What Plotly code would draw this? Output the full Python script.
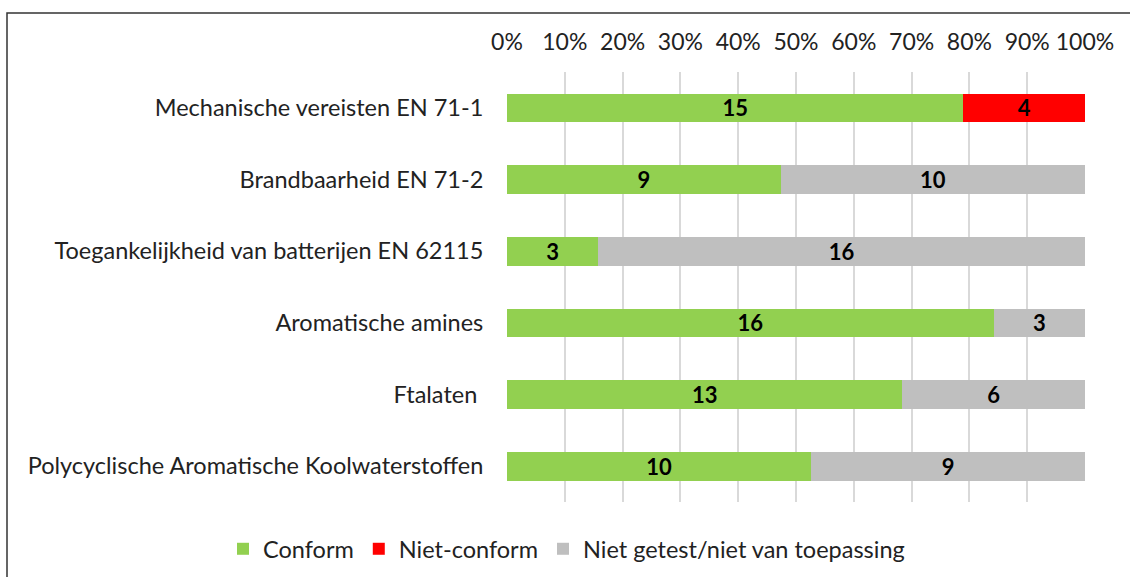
import plotly.graph_objects as go

categories = [
    "Mechanische vereisten EN 71-1",
    "Brandbaarheid EN 71-2",
    "Toegankelijkheid van batterijen EN 62115",
    "Aromatische amines",
    "Ftalaten ",
    "Polycyclische Aromatische Koolwaterstoffen",
]
conform = [15, 9, 3, 16, 13, 10]
niet_conform = [4, 0, 0, 0, 0, 0]
niet_getest = [0, 10, 16, 3, 6, 9]
tick_vals = [0, 10, 20, 30, 40, 50, 60, 70, 80, 90, 100]
tick_text = [f"{v}%" for v in tick_vals]

series = [
    ("Conform", conform, "#92D050"),
    ("Niet-conform", niet_conform, "#FF0000"),
    ("Niet getest/niet van toepassing", niet_getest, "#BFBFBF"),
]

W, H = 1130, 577
ML, MR, MT, MB = 507, 45, 72, 75
pw, ph = W - ML - MR, H - MT - MB

def px_x(p):
    return (p - ML) / pw

def px_y(p):
    return (H - MB - p) / ph

FS = 23.5
fig = go.Figure()
for name, vals, color in series:
    fig.add_trace(go.Bar(
        y=categories, x=vals, name=name, orientation="h",
        marker=dict(color=color, line=dict(width=0)),
        text=[str(v) if v else "" for v in vals],
        textposition="inside", insidetextanchor="middle", textangle=0,
        textfont=dict(family="Lato", size=22, color="black", weight="bold"),
        constraintext="none",
        hoverinfo="x+y",
    ))

fig.update_layout(
    barmode="stack", barnorm="percent", bargap=0.6,
    width=W, height=H,
    margin=dict(l=ML, r=MR, t=MT, b=MB, autoexpand=False),
    paper_bgcolor="white", plot_bgcolor="white",
    font=dict(family="Lato", size=FS, color="#222222"),
    xaxis=dict(
        side="top", range=[0, 100], tickvals=tick_vals, ticktext=tick_text,
        showgrid=True, gridcolor="#D9D9D9", gridwidth=1.5, zeroline=False,
        ticks="outside", ticklen=12, tickcolor="rgba(0,0,0,0)",
        tickfont=dict(size=23, color="#222222"), showline=False, fixedrange=True,
    ),
    yaxis=dict(
        autorange="reversed", showgrid=False, zeroline=False,
        ticks="outside", ticklen=18, tickcolor="rgba(0,0,0,0)",
        tickfont=dict(size=FS, color="#222222"), showline=False,
    ),
    legend=dict(
        orientation="h", x=px_x(223), xanchor="left", y=px_y(549), yanchor="middle",
        font=dict(size=FS, color="#222222"), traceorder="normal",
        itemwidth=30, bgcolor="rgba(0,0,0,0)",
    ),
    shapes=[dict(
        type="rect", xref="paper", yref="paper",
        x0=px_x(7), x1=px_x(W + 20), y0=px_y(H + 20), y1=px_y(13),
        line=dict(color="#333333", width=1.5), fillcolor="rgba(0,0,0,0)", layer="below",
    )],
)

fig.write_html("out.html", config={"displayModeBar": False},
               post_script="document.body.style.margin='0';")
